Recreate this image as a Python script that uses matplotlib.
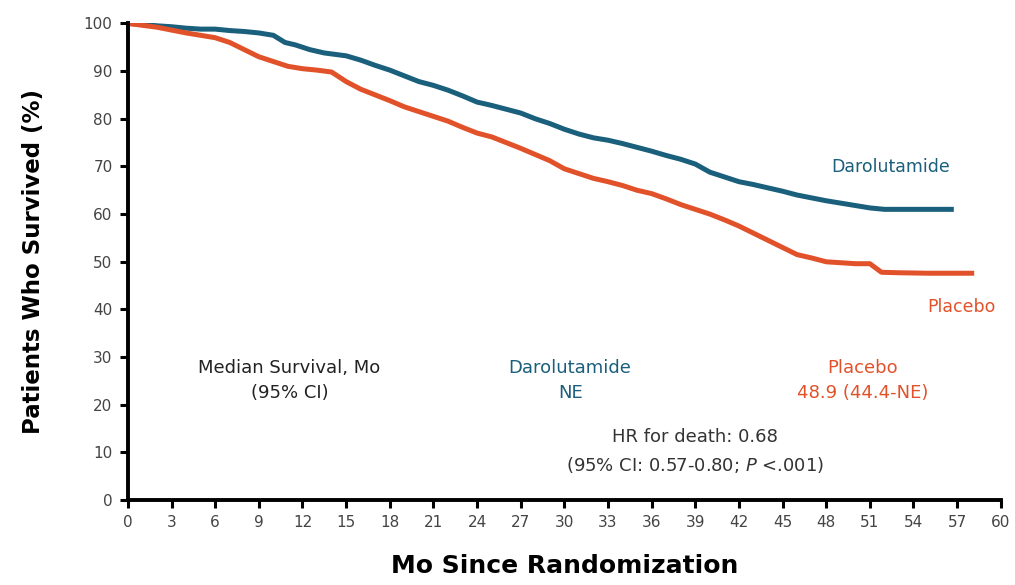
import matplotlib.pyplot as plt

# Kaplan-Meier curves (month, % surviving)
daro_months = [0, 1, 2, 3, 4, 5, 6, 7, 8, 9, 10, 10.8, 11.5, 12.5, 13.5, 15, 16, 17, 18, 19,
               20, 21, 22, 23, 24, 25, 26, 27, 28, 29, 30, 31, 32, 33, 34, 35, 36, 37, 38, 39,
               40, 41, 42, 43, 44, 45, 46, 47, 48, 49, 50, 51, 52, 54, 56.6]
daro_surv = [100, 99.8, 99.5, 99.3, 99.0, 98.8, 98.8, 98.5, 98.3, 98.0, 97.5, 96, 95.5, 94.5,
             93.8, 93.2, 92.3, 91.2, 90.2, 89, 87.8, 87.0, 86, 84.8, 83.5, 82.8, 82, 81.2, 80,
             79, 77.8, 76.8, 76, 75.5, 74.8, 74, 73.2, 72.3, 71.5, 70.5, 68.8, 67.8, 66.8, 66.2,
             65.5, 64.8, 64.0, 63.4, 62.8, 62.3, 61.8, 61.3, 61, 61, 61]

plac_months = [0, 1, 2, 3, 4, 5, 6, 7, 8, 9, 10, 11, 12, 13, 14, 15, 16, 17, 18, 19, 20, 21,
               22, 23, 24, 25, 26, 27, 28, 29, 30, 31, 32, 33, 34, 35, 36, 37, 38, 39, 40, 41,
               42, 43, 44, 45, 46, 47, 48, 49, 50, 51, 51.8, 53, 55, 58]
plac_surv = [100, 99.6, 99.2, 98.6, 98, 97.5, 97, 96, 94.5, 93, 92, 91, 90.5, 90.2, 89.8, 87.8,
             86.2, 85, 83.8, 82.5, 81.5, 80.5, 79.5, 78.2, 77, 76.2, 75, 73.8, 72.5, 71.2, 69.5,
             68.5, 67.5, 66.8, 66, 65, 64.3, 63.2, 62, 61, 60, 58.8, 57.5, 56, 54.5, 53, 51.5,
             50.8, 50, 49.8, 49.6, 49.6, 47.8, 47.7, 47.6, 47.6]

BLUE = '#1a5f7b'
ORANGE = '#e2522a'

plt.rcParams['font.family'] = ['DejaVu Sans']

fig = plt.figure(figsize=(10.15, 5.85), dpi=100)
ax = fig.add_axes([0.126, 0.145, 0.86, 0.815])

ax.plot(daro_months, daro_surv, color=BLUE, lw=3.6, solid_joinstyle='round')
ax.plot(plac_months, plac_surv, color=ORANGE, lw=3.6, solid_joinstyle='round')

ax.set_xlim(0, 60)
ax.set_ylim(0, 100)
ax.set_xticks(range(0, 61, 3))
ax.set_yticks(range(0, 101, 10))
ax.tick_params(direction='out', length=6, width=2.2, labelsize=11, colors='black',
               labelcolor='#444444', pad=5)
for s in ['top', 'right']:
    ax.spines[s].set_visible(False)
for s in ['left', 'bottom']:
    ax.spines[s].set_linewidth(2.8)

ax.set_ylabel('Patients Who Survived (%)', fontsize=16.5, fontweight='bold', labelpad=28)
ax.set_xlabel('Mo Since Randomization', fontsize=18, fontweight='bold', labelpad=17)

ax.text(52.4, 69.8, 'Darolutamide', color=BLUE, fontsize=12.5, ha='center', va='center')
ax.text(57.3, 40.5, 'Placebo', color=ORANGE, fontsize=12.5, ha='center', va='center')

ax.text(11.1, 25.1, 'Median Survival, Mo\n(95% CI)', color='#222222', fontsize=13,
        ha='center', va='center', linespacing=1.55)
ax.text(30.4, 25.1, 'Darolutamide\nNE', color=BLUE, fontsize=13,
        ha='center', va='center', linespacing=1.55)
ax.text(50.5, 25.1, 'Placebo\n48.9 (44.4-NE)', color=ORANGE, fontsize=13,
        ha='center', va='center', linespacing=1.55)
ax.text(39.0, 10.2, 'HR for death: 0.68\n(95% CI: 0.57-0.80; $\\it{P}$ <.001)', color='#333333',
        fontsize=13, ha='center', va='center', linespacing=1.6)

fig.savefig('out.png', dpi=100)
